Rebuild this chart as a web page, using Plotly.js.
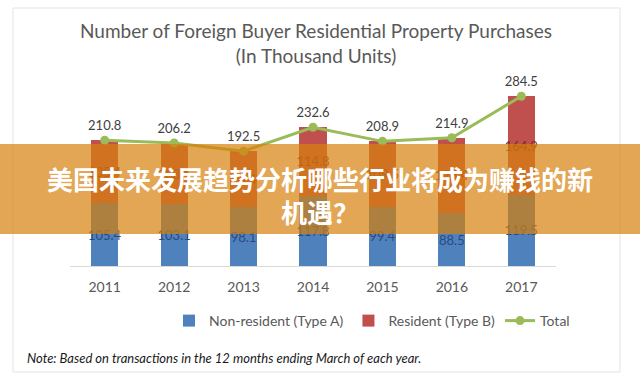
<!DOCTYPE html>
<html>
<head>
<meta charset="utf-8">
<script src="https://cdn.plot.ly/plotly-3.0.1.min.js"></script>
<style>html,body{margin:0;padding:0;background:#fff;}#chart{width:640px;height:380px;}</style>
</head>
<body>
<div id="chart"></div>
<script>
const years = ['2011','2012','2013','2014','2015','2016','2017'];
const nonResident = [105.4, 103.1, 98.1, 117.8, 99.4, 88.5, 119.5];
const resident = [105.4, 103.1, 94.4, 114.8, 109.5, 126.4, 164.9];
const total = [210.8, 206.2, 192.5, 232.6, 208.9, 214.9, 284.5];
const chartTitle = 'Number of Foreign Buyer Residential Property Purchases<br>(In Thousand Units)';
const noteText = 'Note: Based on transactions in the 12 months ending March of each year.';
const bannerLine1 = '美国未来发展趋势分析哪些行业将成为赚钱的新';
const bannerLine2 = '机遇？';

const W = 640, H = 380;
const M = {l: 70, r: 84, t: 87, b: 114};
const pw = W - M.l - M.r, ph = H - M.t - M.b;
const px = x => (x - M.l) / pw;
const py = y => (H - M.b - y) / ph;

const font = 'Lato, "Open Sans", "DejaVu Sans", sans-serif';

const traces = [
  {
    type: 'bar', name: 'Non-resident (Type A)', x: years, y: nonResident,
    marker: {color: '#4F81BD'},
    text: nonResident.map(v => v.toFixed(1)), textposition: 'inside', textangle: 0,
    insidetextanchor: 'middle', constraintext: 'none',
    textfont: {family: font, size: 13, color: '#2B4A80'},
    hoverinfo: 'none'
  },
  {
    type: 'bar', name: 'Resident (Type B)', x: years, y: resident,
    marker: {color: '#C0504D'},
    text: resident.map(v => v.toFixed(1)), textposition: 'inside', textangle: 0,
    insidetextanchor: 'middle', constraintext: 'none',
    textfont: {family: font, size: 13, color: '#7A2B28'},
    hoverinfo: 'none'
  },
  {
    type: 'scatter', mode: 'lines+markers+text', name: 'Total', x: years, y: total,
    line: {color: '#9BBB59', width: 3},
    marker: {color: '#9BBB59', size: 9},
    text: total.map(v => v.toFixed(1)), textposition: 'top center',
    textfont: {family: font, size: 13, color: '#404040'},
    cliponaxis: false, hoverinfo: 'none'
  }
];

const layout = {
  width: W, height: H,
  margin: M,
  paper_bgcolor: '#ffffff', plot_bgcolor: '#ffffff',
  barmode: 'stack', bargap: 0.61,
  font: {family: font, color: '#595959'},
  title: {
    text: chartTitle,
    font: {family: font, size: 19, color: '#595959'},
    x: 316 / W, xanchor: 'center', xref: 'container',
    y: 1 - 38 / H, yanchor: 'top', yref: 'container'
  },
  xaxis: {
    type: 'category', showgrid: false, zeroline: false,
    showline: true, linecolor: '#D9D9D9', linewidth: 1,
    ticks: '', ticklabelstandoff: 8,
    tickfont: {family: font, size: 14, color: '#595959'}
  },
  yaxis: {
    range: [0, 300], showgrid: false, zeroline: false,
    showticklabels: false, showline: false, ticks: ''
  },
  showlegend: true,
  legend: {
    orientation: 'h', xref: 'container', yref: 'container',
    x: 372 / W, xanchor: 'center', y: 1 - 321 / H, yanchor: 'middle',
    font: {family: font, size: 14, color: '#595959'},
    traceorder: 'normal'
  },
  shapes: [
    {type: 'rect', xref: 'paper', yref: 'paper', layer: 'below',
     x0: px(13), x1: px(620), y0: py(372), y1: py(8),
     line: {color: '#E3E3E3', width: 1}, fillcolor: 'rgba(0,0,0,0)'},
    {type: 'rect', xref: 'paper', yref: 'paper', layer: 'above',
     x0: px(0), x1: px(640), y0: py(234), y1: py(144),
     line: {width: 0}, fillcolor: 'rgba(215,128,11,0.70)'}
  ],
  annotations: [
    {xref: 'paper', yref: 'paper', x: px(25), y: py(358), xanchor: 'left', yanchor: 'middle',
     showarrow: false, text: '<i>' + noteText + '</i>',
     font: {family: font, size: 13, color: '#1A1A1A'}},
    {xref: 'paper', yref: 'paper', x: px(320), y: py(178), xanchor: 'center', yanchor: 'middle',
     showarrow: false, text: '<b>' + bannerLine1 + '</b>',
     font: {family: '"Noto Sans CJK SC", sans-serif', size: 26, color: '#ffffff'}},
    {xref: 'paper', yref: 'paper', x: px(320), y: py(211), xanchor: 'center', yanchor: 'middle',
     showarrow: false, text: '<b>' + bannerLine2 + '</b>',
     font: {family: '"Noto Sans CJK SC", sans-serif', size: 26, color: '#ffffff'}}
  ]
};

Plotly.newPlot('chart', traces, layout, {staticPlot: true, displayModeBar: false});
</script>
</body>
</html>
